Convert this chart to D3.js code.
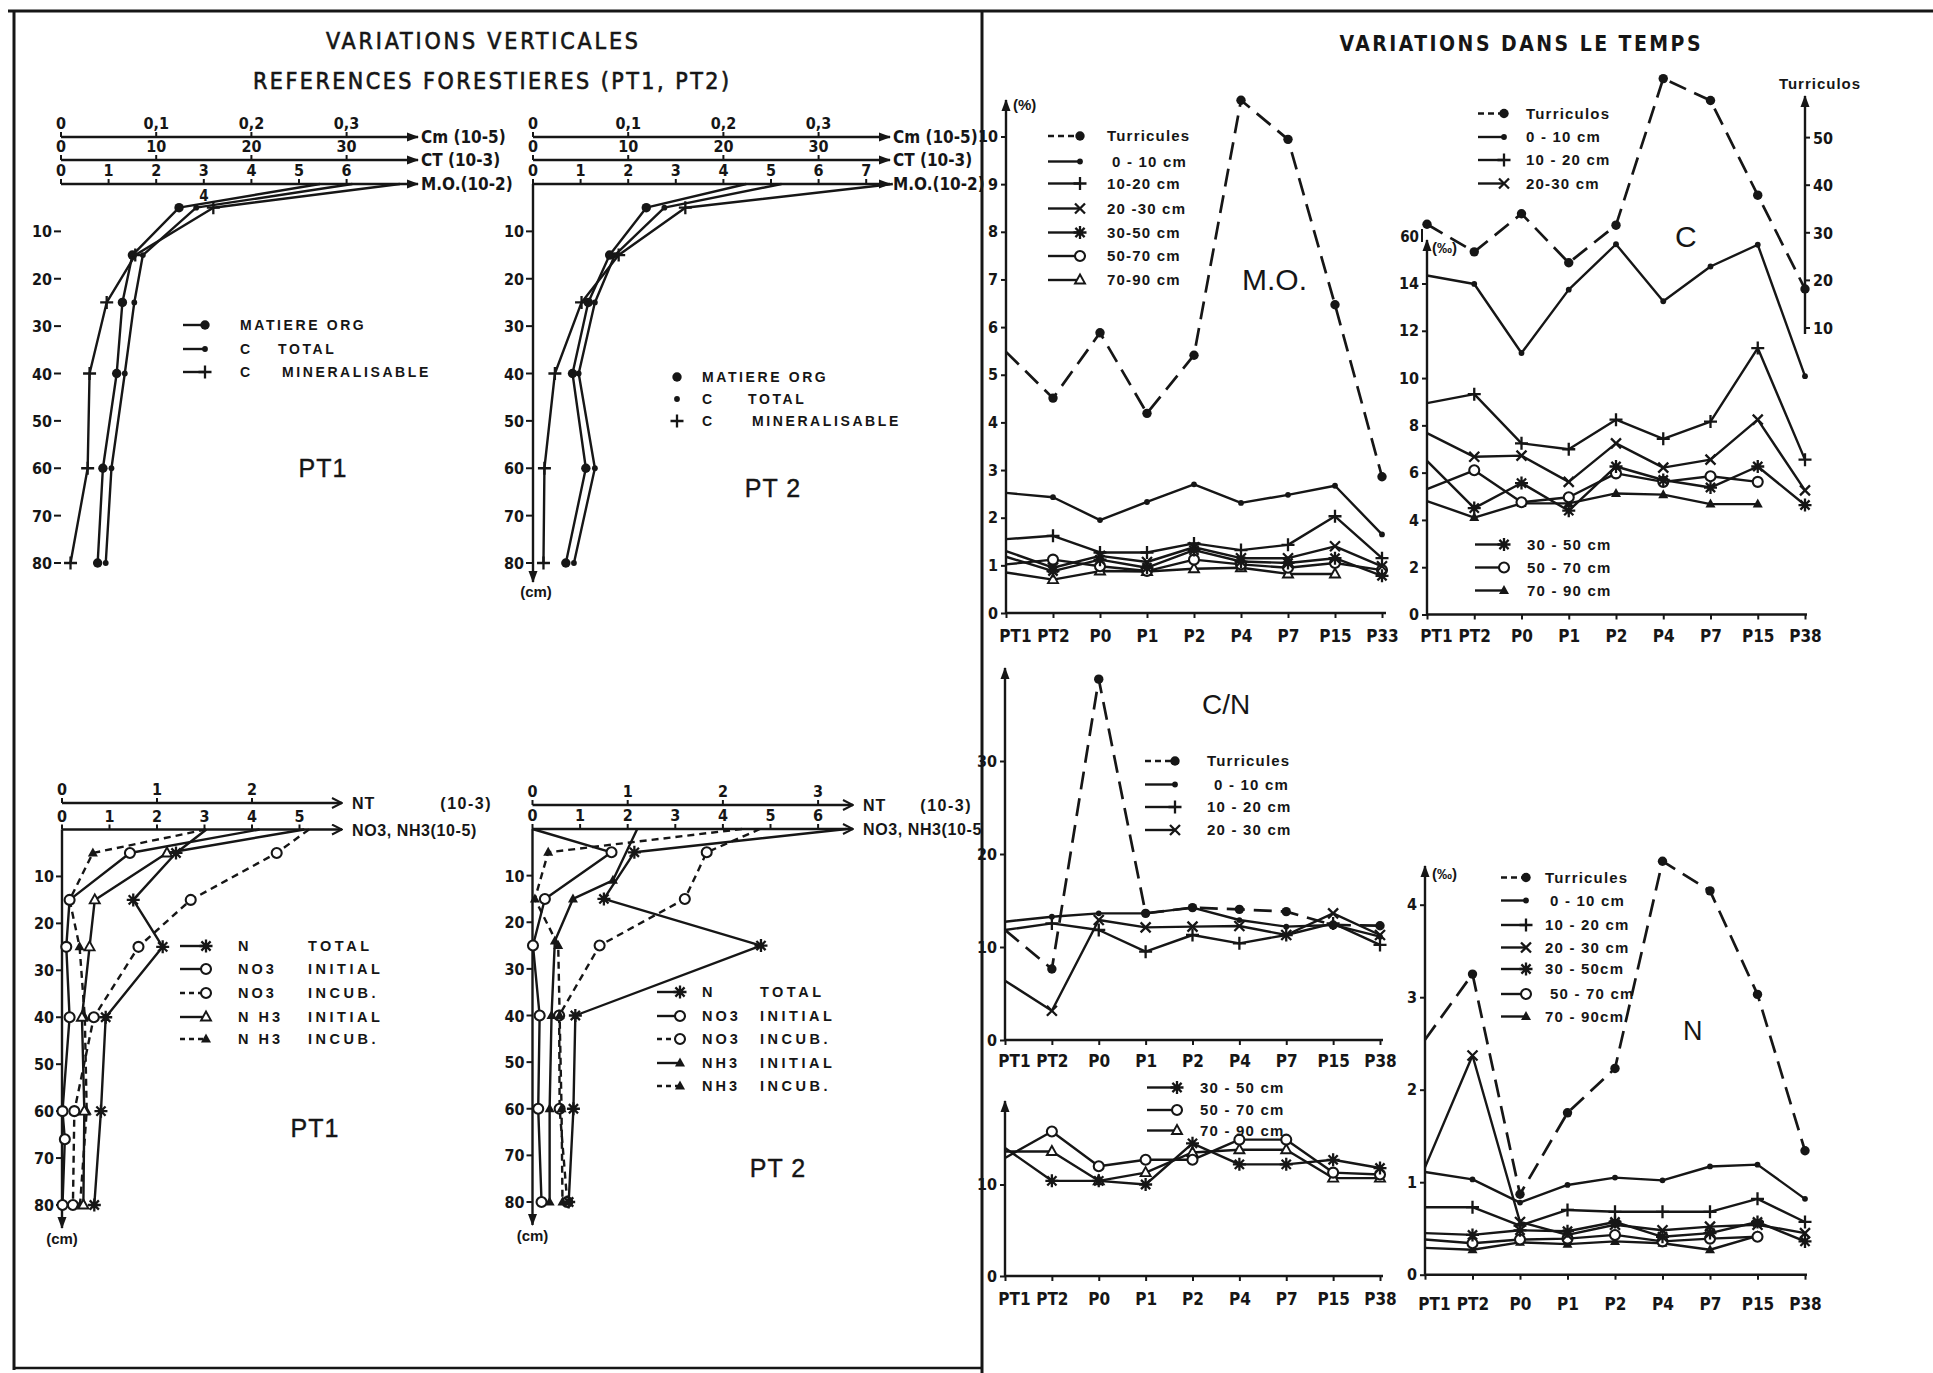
<!DOCTYPE html>
<html lang="fr">
<head>
<meta charset="utf-8">
<title>Variations verticales et dans le temps</title>
<script src="https://cdn.jsdelivr.net/npm/d3@7/dist/d3.min.js"></script>
<style>
  html, body { margin: 0; padding: 0; background: #fff; }
  svg { display: block; }
</style>
</head>
<body>
<svg id="fig" width="1933" height="1373"></svg>
<script>
// ---------------- Forest reference profiles (PT1, PT2): carbon ----------------
const depthC = [0, 5, 15, 25, 40, 60, 80];                       // cm
const pt1MO = [5.44, 2.48, 1.50, 1.29, 1.17, 0.88, 0.77];        // M.O. (10-2)
const pt1CT = [30.6, 14.2, 8.6, 7.7, 6.7, 5.3, 4.7];             // C total (10-3)
const pt1Cm = [0.356, 0.160, 0.078, 0.048, 0.030, 0.028, 0.010]; // C mineralisable (10-5)
const pt2MO = [4.48, 2.38, 1.61, 1.16, 0.83, 1.11, 0.69];
const pt2CT = [26.1, 13.8, 8.6, 6.5, 4.8, 6.5, 4.3];
const pt2Cm = [0.378, 0.160, 0.090, 0.051, 0.023, 0.012, 0.011];

const cmTicks = [0, 0.1, 0.2, 0.3];
const ctTicks = [0, 10, 20, 30];
const moTicksPT1 = [0, 1, 2, 3, 4, 5, 6];
const moTicksPT2 = [0, 1, 2, 3, 4, 5, 6, 7];
const depthTicks = [10, 20, 30, 40, 50, 60, 70, 80];

// ---------------- Forest reference profiles (PT1, PT2): nitrogen ----------------
const depthN = [0, 5, 15, 25, 40, 60, 80];
const pt1NT = [1.52, 1.20, 0.75, 1.06, 0.46, 0.41, 0.34];          // N total (10-3)
const pt1NO3iDepth = [0, 5, 15, 25, 40, 60, 66, 80];
const pt1NO3i = [4.16, 1.43, 0.16, 0.09, 0.16, 0.01, 0.06, 0.01]; // NO3 initial (10-5)
const pt1NO3c = [5.20, 4.52, 2.71, 1.61, 0.67, 0.26, 0.23];       // NO3 incub.
const pt1NH3i = [5.10, 2.21, 0.69, 0.58, 0.42, 0.47, 0.45];       // NH3 initial
const pt1NH3c = [3.03, 0.65, 0.16, 0.37, 0.48, 0.52, 0.38];       // NH3 incub.

const pt2NT = [3.30, 1.07, 0.75, 2.40, 0.45, 0.43, 0.38];
const pt2NO3i = [0.00, 1.66, 0.26, 0.01, 0.15, 0.12, 0.19];
const pt2NO3c = [4.78, 3.66, 3.20, 1.41, 0.56, 0.57, 0.73];
const pt2NH3iDepth = [0, 11, 15, 24, 40, 60, 80];
const pt2NH3i = [2.20, 1.69, 0.85, 0.47, 0.40, 0.36, 0.36];
const pt2NH3c = [4.40, 0.33, 0.05, 0.54, 0.57, 0.61, 0.63];

const ntTicksPT1 = [0, 1, 2];
const no3TicksPT1 = [0, 1, 2, 3, 4, 5];
const ntTicksPT2 = [0, 1, 2, 3];
const no3TicksPT2 = [0, 1, 2, 3, 4, 5, 6];

// ---------------- Time series: sites ----------------
const catsMO = ["PT1", "PT2", "P0", "P1", "P2", "P4", "P7", "P15", "P33"];
const catsT = ["PT1", "PT2", "P0", "P1", "P2", "P4", "P7", "P15", "P38"];

// M.O. (%)
const moTurr = [5.48, 4.51, 5.88, 4.19, 5.41, 10.76, 9.94, 6.47, 2.86];
const mo0_10 = [2.52, 2.43, 1.95, 2.33, 2.70, 2.31, 2.48, 2.67, 1.65];
const mo10_20 = [1.55, 1.62, 1.27, 1.27, 1.46, 1.32, 1.43, 2.03, 1.15];
const mo20_30 = [1.30, 0.95, 1.20, 1.07, 1.38, 1.15, 1.15, 1.40, 0.98];
const mo30_50 = [1.18, 0.88, 1.12, 0.95, 1.32, 1.08, 1.05, 1.15, 0.78];
const mo50_70 = [1.02, 1.12, 0.98, 0.88, 1.12, 1.02, 0.95, 1.05, 0.90];
const mo70_90 = [0.85, 0.70, 0.88, 0.87, 0.93, 0.95, 0.82, 0.82];

// C (per mille); casts on their own right-hand scale
const cTurr = [31.8, 26.0, 34.0, 23.7, 31.6, 62.4, 57.8, 37.9, 18.2];
const c0_10 = [14.34, 13.98, 11.06, 13.74, 15.66, 13.25, 14.72, 15.64, 10.08];
const c10_20 = [8.94, 9.32, 7.24, 6.99, 8.24, 7.43, 8.16, 11.27, 6.55];
const c20_30 = [7.67, 6.67, 6.72, 5.61, 7.24, 6.21, 6.55, 8.24, 5.25];
const c30_50 = [6.50, 4.50, 5.56, 4.39, 6.26, 5.69, 5.37, 6.26, 4.63];
const c50_70 = [5.30, 6.10, 4.75, 4.96, 5.97, 5.61, 5.85, 5.61];
const c70_90 = [4.80, 4.10, 4.70, 4.70, 5.12, 5.07, 4.67, 4.67];

// C/N
const cnTurr = [11.83, 7.63, 38.8, 13.62, 14.23, 14.05, 13.80, 12.37, 12.29];
const cn0_10 = [12.72, 13.26, 13.62, 13.62, 14.23, 12.90, 12.19, 12.37, 11.11];
const cn10_20 = [11.83, 12.54, 11.83, 9.50, 11.29, 10.39, 11.29, 12.54, 10.22];
const cn20_30 = [6.38, 3.15, 12.90, 12.11, 12.19, 12.26, 11.29, 13.62, 11.29];
const cn30_50 = [14.0, 10.4, 10.4, 10.0, 14.5, 12.2, 12.2, 12.7, 11.8];
const cn50_70 = [12.9, 15.8, 12.0, 12.7, 12.7, 14.9, 14.9, 11.3, 11.1];
const cn70_90 = [13.6, 13.6, 10.4, 11.3, 13.5, 13.8, 13.8, 10.7, 10.7];

// N (per mille)
const nTurr = [2.54, 3.25, 0.87, 1.75, 2.23, 4.47, 4.15, 3.03, 1.34];
const n0_10 = [1.11, 1.03, 0.78, 0.97, 1.05, 1.02, 1.17, 1.19, 0.82];
const n10_20 = [0.73, 0.73, 0.53, 0.70, 0.68, 0.68, 0.68, 0.82, 0.57];
const n20_30 = [1.16, 2.37, 0.57, 0.43, 0.54, 0.48, 0.52, 0.54, 0.45];
const n30_50 = [0.45, 0.43, 0.48, 0.47, 0.57, 0.41, 0.45, 0.57, 0.36];
const n50_70 = [0.38, 0.34, 0.38, 0.39, 0.43, 0.36, 0.39, 0.41];
const n70_90 = [0.29, 0.27, 0.35, 0.33, 0.36, 0.34, 0.27, 0.42];

// Tick values for the time charts
const moTicks = [0, 1, 2, 3, 4, 5, 6, 7, 8, 9, 10];
const cTicks = [0, 2, 4, 6, 8, 10, 12, 14];
const cTurrTicks = [10, 20, 30, 40, 50];
const cnTicks = [0, 10, 20, 30];
const cnLowTicks = [0, 10];
const nTicks = [0, 1, 2, 3, 4];

// ======================================================================
const FN = '"Liberation Sans Narrow","Arial Narrow","DejaVu Sans Condensed","Liberation Sans",Arial,sans-serif';
const FW = '"Liberation Sans",Arial,"DejaVu Sans",sans-serif';
const ink = "#161616";
const LW = 2.4;

const svg = d3.select("#fig");
svg.append("rect").attr("width", 1933).attr("height", 1373).attr("fill", "#fff");
const defs = svg.append("defs");
defs.append("marker").attr("id", "arrF").attr("viewBox", "0 -5 12 10").attr("refX", 11).attr("refY", 0)
  .attr("markerWidth", 12).attr("markerHeight", 10).attr("markerUnits", "userSpaceOnUse").attr("orient", "auto")
  .append("path").attr("d", "M0,-4.5L12,0L0,4.5Z").attr("fill", ink);
defs.append("marker").attr("id", "arrO").attr("viewBox", "0 -6 12 12").attr("refX", 11).attr("refY", 0)
  .attr("markerWidth", 12).attr("markerHeight", 12).attr("markerUnits", "userSpaceOnUse").attr("orient", "auto")
  .append("path").attr("d", "M1,-5L11,0L1,5").attr("fill", "none").attr("stroke", ink).attr("stroke-width", 2);
defs.append("clipPath").attr("id", "leftPane").append("rect")
  .attr("x", 0).attr("y", 0).attr("width", 981).attr("height", 1373);

function T(g, s, x, y, o = {}) {
  const t = g.append("text").attr("x", x).attr("y", y).text(s)
    .attr("font-family", o.ff || FW).attr("font-size", o.fs || 15)
    .attr("font-weight", o.fw || "bold").attr("fill", ink)
    .attr("text-anchor", o.a || "start");
  if (o.ls) t.attr("letter-spacing", o.ls);
  if (o.tl) t.attr("textLength", o.tl).attr("lengthAdjust", o.la || "spacingAndGlyphs");
  if (o.sw) t.attr("stroke", ink).attr("stroke-width", o.sw);
  return t;
}
function L(g, x1, y1, x2, y2, o = {}) {
  return g.append("line").attr("x1", x1).attr("y1", y1).attr("x2", x2).attr("y2", y2)
    .attr("stroke", ink).attr("stroke-width", o.w || LW)
    .attr("stroke-dasharray", o.dash || null)
    .attr("marker-end", o.arrow ? `url(#${o.arrow})` : null);
}
function M(g, type, x, y, k = 1) {
  const s = g.append("g").attr("transform", `translate(${x},${y}) scale(${k})`);
  const st = p => p.attr("stroke", ink).attr("stroke-width", 2.3).attr("fill", "none");
  switch (type) {
    case "dot": s.append("circle").attr("r", 4.7).attr("fill", ink); break;
    case "sdot": s.append("circle").attr("r", 2.9).attr("fill", ink); break;
    case "plus": st(s.append("path").attr("d", "M-6.5,0H6.5M0,-6.5V6.5")); break;
    case "cross": st(s.append("path").attr("d", "M-5,-5L5,5M-5,5L5,-5")); break;
    case "star": st(s.append("path").attr("d", "M-6.5,0H6.5M0,-6.5V6.5M-4.6,-4.6L4.6,4.6M-4.6,4.6L4.6,-4.6")); break;
    case "ring": s.append("circle").attr("r", 5).attr("fill", "#fff").attr("stroke", ink).attr("stroke-width", 2.1); break;
    case "tri": s.append("path").attr("d", "M0,-5.5L5,3.5L-5,3.5Z").attr("fill", "#fff").attr("stroke", ink).attr("stroke-width", 1.9); break;
    case "ftri": s.append("path").attr("d", "M0,-5.5L5,3.5L-5,3.5Z").attr("fill", ink); break;
  }
}
function series(g, pts, o = {}) {
  g.append("path").attr("d", d3.line()(pts)).attr("fill", "none").attr("stroke", ink)
    .attr("stroke-width", o.w || LW).attr("stroke-dasharray", o.dash || null)
    .attr("stroke-linejoin", "round");
  if (o.mk) pts.forEach((p, i) => { if (!(o.skipFirst && i === 0)) M(g, o.mk, p[0], p[1], o.k || 1); });
}

// ---------------- frame and titles ----------------
const frame = svg.append("g");
L(frame, 8, 11, 1933, 11, { w: 3 });
L(frame, 14, 11, 14, 1370, { w: 3 });
L(frame, 982, 11, 982, 1373, { w: 3 });
L(frame, 14, 1368, 982, 1368, { w: 2.5 });
T(frame, "VARIATIONS VERTICALES", 482, 49, { a: "middle", ff: FN, fs: 23, fw: "normal", tl: 312, la: "spacing", sw: 0.6 });
T(frame, "REFERENCES FORESTIERES (PT1, PT2)", 491, 89, { a: "middle", ff: FN, fs: 23, fw: "normal", tl: 476, la: "spacing", sw: 0.6 });
T(frame, "VARIATIONS DANS LE TEMPS", 1520, 51, { a: "middle", ff: FN, fs: 21, fw: "bold", tl: 361, la: "spacing" });

// ---------------- carbon profiles ----------------
function topPanel(ox, moT, mo, ct, cm, vaxis) {
  const g = svg.append("g");
  const span = 7.5, unit = 47.6;
  const xMO = d3.scaleLinear().domain([0, span]).range([ox, ox + span * unit]);
  const xCT = xMO.copy().domain([0, span * 5]);
  const xCm = xMO.copy().domain([0, span * 0.05]);
  const yD = d3.scaleLinear().domain([0, 80]).range([184, 563]);
  const tip = xMO(span);
  const comma = d => d === 0 ? "0" : d3.format(".1f")(d).replace(".", ",");
  const rows = [
    { y: 137, s: xCm, ticks: cmTicks, f: comma, lab: "Cm (10-5)" },
    { y: 160, s: xCT, ticks: ctTicks, f: d3.format("d"), lab: "CT (10-3)" },
    { y: 184, s: xMO, ticks: moT, f: d3.format("d"), lab: "M.O.(10-2)" }];
  rows.forEach(r => {
    L(g, ox, r.y, tip, r.y, { arrow: "arrF" });
    r.ticks.forEach(t => {
      L(g, r.s(t), r.y - 5, r.s(t), r.y, { w: 2 });
      T(g, r.f(t), r.s(t), r.y - 8, { a: "middle", ff: FN, fs: 16 });
    });
    T(g, r.lab, tip + 3, r.y + 6, { ff: FN, fs: 17 });
  });
  depthTicks.forEach(d => {
    L(g, ox - 7, yD(d), ox, yD(d), { w: 2 });
    T(g, d, ox - 9, yD(d) + 6, { a: "end", ff: FN, fs: 16 });
  });
  if (vaxis) {
    L(g, ox, 184, ox, 582, { arrow: "arrF" });
    T(g, "(cm)", ox + 3, 597, { a: "middle", fs: 15 });
  }
  series(g, depthC.map((d, i) => [xCT(ct[i]), yD(d)]), { mk: "sdot", skipFirst: true });
  series(g, depthC.map((d, i) => [xMO(mo[i]), yD(d)]), { mk: "dot", skipFirst: true });
  series(g, depthC.map((d, i) => [xCm(cm[i]), yD(d)]), { mk: "plus", skipFirst: true });
  return g;
}
const gT1 = topPanel(61, moTicksPT1, pt1MO, pt1CT, pt1Cm, false);
T(gT1, "4", 204, 201, { a: "middle", ff: FN, fs: 15 });
const gT2 = topPanel(533, moTicksPT2, pt2MO, pt2CT, pt2Cm, true);

// carbon legends
const legC = [["MATIERE ORG", ""], ["C", "TOTAL"], ["C", "MINERALISABLE"]];
const legCmk = ["dot", "sdot", "plus"];
[325, 349, 372].forEach((y, i) => {
  L(gT1, 183, y, 205, y);
  M(gT1, legCmk[i], 205, y);
  T(gT1, legC[i][0], 240, y + 5, { fs: 14, ls: 2.6 });
  if (legC[i][1]) T(gT1, legC[i][1], i === 1 ? 278 : 282, y + 5, { fs: 14, ls: 2.6 });
});
[377, 399, 421].forEach((y, i) => {
  M(gT2, legCmk[i], 677, y);
  T(gT2, legC[i][0], 702, y + 5, { fs: 14, ls: 2.6 });
  if (legC[i][1]) T(gT2, legC[i][1], i === 1 ? 748 : 752, y + 5, { fs: 14, ls: 2.6 });
});
T(gT1, "PT1", 323, 477, { a: "middle", fs: 25, fw: "normal", ls: 1, sw: 0.4 });
T(gT2, "PT 2", 773, 497, { a: "middle", fs: 25, fw: "normal", ls: 1, sw: 0.4 });

// ---------------- nitrogen profiles ----------------
function botPanel(c) {
  const g = svg.append("g");
  const xNO = d3.scaleLinear().domain([0, c.span]).range([c.ox, c.tip]);
  const xNT = xNO.copy().domain([0, c.span / 2]);
  const yD = d3.scaleLinear().domain([0, 80]).range([c.yNO3, c.y80]);
  L(g, c.ox, c.yNT, c.tip, c.yNT, { arrow: "arrO" });
  L(g, c.ox, c.yNO3, c.tip, c.yNO3, { arrow: "arrO" });
  c.ntTicks.forEach(t => { L(g, xNT(t), c.yNT - 5, xNT(t), c.yNT, { w: 2 }); T(g, t, xNT(t), c.yNT - 8, { a: "middle", ff: FN, fs: 16 }); });
  c.noTicks.forEach(t => { L(g, xNO(t), c.yNO3 - 5, xNO(t), c.yNO3, { w: 2 }); T(g, t, xNO(t), c.yNO3 - 8, { a: "middle", ff: FN, fs: 16 }); });
  T(g, "NT", c.tip + 10, c.yNT + 6, { fs: 16, ls: 1 });
  T(g, "(10-3)", c.unitX, c.yNT + 6, { a: "end", fs: 16, ls: 1.5 });
  T(g, "NO3, NH3(10-5)", c.tip + 10, c.yNO3 + 6, { fs: 16, ls: 0.6 }).attr("clip-path", "url(#leftPane)");
  L(g, c.ox, c.yNO3, c.ox, c.yEnd, { arrow: "arrF" });
  T(g, "(cm)", c.ox, c.yEnd + 16, { a: "middle", fs: 15 });
  depthTicks.forEach(d => {
    L(g, c.ox - 6, yD(d), c.ox, yD(d), { w: 2 });
    T(g, d, c.ox - 8, yD(d) + 6, { a: "end", ff: FN, fs: 16 });
  });
  series(g, c.no3c.map((v, i) => [xNO(v), yD(depthN[i])]), { mk: "ring", dash: "7,5", skipFirst: true });
  series(g, c.nh3c.map((v, i) => [xNO(v), yD(depthN[i])]), { mk: "ftri", dash: "7,5", skipFirst: true });
  series(g, c.nh3i.map((v, i) => [xNO(v), yD(c.nh3iDepth[i])]), { mk: c.nh3iMk, skipFirst: true });
  series(g, c.no3i.map((v, i) => [xNO(v), yD(c.no3iDepth[i])]), { mk: "ring", skipFirst: true });
  series(g, c.nt.map((v, i) => [xNT(v), yD(depthN[i])]), { mk: "star", skipFirst: true });
  // legend
  const mk = ["star", "ring", "ring", c.nh3iMk, "ftri"];
  const dash = [null, null, "5,4", null, "5,4"];
  c.legY.forEach((y, i) => {
    L(g, c.legX[0], y, c.legX[1], y, { dash: dash[i] });
    M(g, mk[i], c.legX[1], y);
    T(g, c.legLab[i][0], c.legX[2], y + 5, { fs: 14.5, ls: 3 });
    T(g, c.legLab[i][1], c.legX[3], y + 5, { fs: 14.5, ls: 3.5 });
  });
  T(g, c.name, c.nameXY[0], c.nameXY[1], { a: "middle", fs: 25, fw: "normal", ls: 1, sw: 0.4 });
  return g;
}
botPanel({
  ox: 62, tip: 342, span: (342 - 62) / 47.5, yNT: 803, yNO3: 829.5, y80: 1205, yEnd: 1228,
  ntTicks: ntTicksPT1, noTicks: no3TicksPT1, unitX: 492,
  nt: pt1NT, no3i: pt1NO3i, no3iDepth: pt1NO3iDepth, no3c: pt1NO3c,
  nh3i: pt1NH3i, nh3iDepth: depthN, nh3c: pt1NH3c, nh3iMk: "tri",
  legX: [180, 206, 238, 308], legY: [946, 969, 993, 1017, 1039],
  legLab: [["N", "TOTAL"], ["NO3", "INITIAL"], ["NO3", "INCUB."], ["N H3", "INITIAL"], ["N H3", "INCUB."]],
  name: "PT1", nameXY: [315, 1137]
});
botPanel({
  ox: 532.5, tip: 853, span: (853 - 532.5) / 47.6, yNT: 805, yNO3: 829, y80: 1202, yEnd: 1225,
  ntTicks: ntTicksPT2, noTicks: no3TicksPT2, unitX: 972,
  nt: pt2NT, no3i: pt2NO3i, no3iDepth: depthN, no3c: pt2NO3c,
  nh3i: pt2NH3i, nh3iDepth: pt2NH3iDepth, nh3c: pt2NH3c, nh3iMk: "ftri",
  legX: [657, 680, 702, 760], legY: [992, 1016, 1039, 1063, 1086],
  legLab: [["N", "TOTAL"], ["NO3", "INITIAL"], ["NO3", "INCUB."], ["NH3", "INITIAL"], ["NH3", "INCUB."]],
  name: "PT 2", nameXY: [778, 1177]
});

// ---------------- time charts ----------------
function timePanel(c) {
  const g = svg.append("g");
  const x = d3.scalePoint().domain(c.cats).range(c.xr);
  const y = d3.scaleLinear().domain(c.dom).range(c.yr);
  const x0 = c.xr[0], y0 = c.yr[0];
  L(g, x0, y0, x0, c.top, { arrow: "arrF" });
  L(g, x0, y0, c.xEnd, y0);
  const ya = g.append("g").attr("transform", `translate(${x0},0)`)
    .call(d3.axisLeft(y).tickValues(c.ticks).tickSize(5).tickPadding(3).tickFormat(d3.format("d")));
  const xa = g.append("g").attr("transform", `translate(0,${y0})`)
    .call(d3.axisBottom(x).tickSize(5).tickPadding(c.labY - y0 - 11));
  [ya, xa].forEach(a => {
    a.select(".domain").remove();
    a.attr("font-family", null).attr("font-size", null);
    a.selectAll(".tick line").attr("stroke", ink).attr("stroke-width", 2);
    a.selectAll(".tick text").attr("fill", ink).attr("font-family", FN).attr("font-weight", "bold");
  });
  ya.selectAll(".tick text").attr("font-size", 16);
  xa.selectAll(".tick text").attr("font-size", 17);
  xa.select(".tick text").attr("dx", 9);
  return { g, x, y };
}
function tSeries(p, vals, o, yS) {
  const ys = yS || p.y;
  const cats = p.x.domain();
  series(p.g, vals.map((v, i) => [p.x(cats[i]), ys(v)]), Object.assign({ skipFirst: true }, o));
}
function tLegend(g, items, sx0, sx1, tx, ys) {
  items.forEach((it, i) => {
    L(g, sx0, ys[i], sx1, ys[i], { dash: it.dash });
    M(g, it.mk, sx1, ys[i]);
    T(g, it.label, it.tx || tx, ys[i] + 5, { fs: 15, ls: 1.2 });
  });
}
const DASH = "18,9";

// M.O.
const pMO = timePanel({ cats: catsMO, xr: [1006, 1382], yr: [613, 136.5], dom: [0, 10], ticks: moTicks, top: 100, labY: 636, xEnd: 1386 });
tSeries(pMO, mo70_90, { mk: "tri" });
tSeries(pMO, mo50_70, { mk: "ring" });
tSeries(pMO, mo30_50, { mk: "star" });
tSeries(pMO, mo20_30, { mk: "cross" });
tSeries(pMO, mo10_20, { mk: "plus" });
tSeries(pMO, mo0_10, { mk: "sdot" });
tSeries(pMO, moTurr, { mk: "dot", dash: DASH, w: 2.7 });
T(pMO.g, "(%)", 1013, 110, { fs: 15 });
tLegend(pMO.g, [
  { label: "Turricules", mk: "dot", dash: "6,4" },
  { label: "0 - 10 cm", mk: "sdot", tx: 1112 },
  { label: "10-20 cm", mk: "plus" },
  { label: "20 -30 cm", mk: "cross" },
  { label: "30-50 cm", mk: "star" },
  { label: "50-70 cm", mk: "ring" },
  { label: "70-90 cm", mk: "tri" }], 1048, 1080, 1107, [136, 161.5, 183.5, 208.5, 232.5, 256, 280]);
T(pMO.g, "M.O.", 1242, 290, { fs: 30, fw: "normal" });

// C
const pC = timePanel({ cats: catsT, xr: [1427, 1805], yr: [614.5, 283.5], dom: [0, 14], ticks: cTicks, top: 240, labY: 636, xEnd: 1807 });
const yTurr = d3.scaleLinear().domain([10, 50]).range([328, 137.6]);
L(pC.g, 1805, 334, 1805, 96, { arrow: "arrF" });
cTurrTicks.forEach(t => {
  L(pC.g, 1805, yTurr(t), 1810, yTurr(t), { w: 2 });
  T(pC.g, t, 1813, yTurr(t) + 6, { ff: FN, fs: 16 });
});
T(pC.g, "Turriculos", 1820, 89, { a: "middle", fs: 15, ls: 1 });
T(pC.g, "60", 1419, 242, { a: "end", ff: FN, fs: 15 });
L(pC.g, 1422, 229, 1422, 242, { w: 2 });
tSeries(pC, c70_90, { mk: "ftri" });
tSeries(pC, c50_70, { mk: "ring" });
tSeries(pC, c30_50, { mk: "star" });
tSeries(pC, c20_30, { mk: "cross" });
tSeries(pC, c10_20, { mk: "plus" });
tSeries(pC, c0_10, { mk: "sdot" });
tSeries(pC, cTurr, { mk: "dot", dash: DASH, w: 2.7, skipFirst: false }, yTurr);
T(pC.g, "(‰)", 1432, 253, { fs: 15 });
tLegend(pC.g, [
  { label: "Turriculos", mk: "dot", dash: "6,4" },
  { label: "0 - 10 cm", mk: "sdot" },
  { label: "10 - 20 cm", mk: "plus" },
  { label: "20-30 cm", mk: "cross" }], 1478, 1504, 1526, [113.5, 137, 160, 183.5]);
tLegend(pC.g, [
  { label: "30 - 50 cm", mk: "star" },
  { label: "50 - 70 cm", mk: "ring" },
  { label: "70 - 90 cm", mk: "ftri" }], 1475, 1504, 1527, [544.5, 567.5, 590.5]);
T(pC.g, "C", 1675, 247, { fs: 30, fw: "normal" });

// C/N, upper layers
const pCN = timePanel({ cats: catsT, xr: [1005, 1380], yr: [1040, 761], dom: [0, 30], ticks: cnTicks, top: 668, labY: 1061, xEnd: 1383 });
tSeries(pCN, cn20_30, { mk: "cross" });
tSeries(pCN, cn10_20, { mk: "plus" });
tSeries(pCN, cn0_10, { mk: "sdot" });
tSeries(pCN, cnTurr, { mk: "dot", dash: DASH, w: 2.7 });
tLegend(pCN.g, [
  { label: "Turricules", mk: "dot", dash: "6,4" },
  { label: "0 - 10 cm", mk: "sdot", tx: 1214 },
  { label: "10 - 20 cm", mk: "plus" },
  { label: "20 - 30 cm", mk: "cross" }], 1145, 1175, 1207, [761, 784.5, 807, 830]);
T(pCN.g, "C/N", 1202, 714, { fs: 28, fw: "normal" });

// C/N, deeper layers
const pCN2 = timePanel({ cats: catsT, xr: [1005, 1380], yr: [1276, 1184.5], dom: [0, 10], ticks: cnLowTicks, top: 1101, labY: 1299, xEnd: 1383 });
tSeries(pCN2, cn70_90, { mk: "tri" });
tSeries(pCN2, cn50_70, { mk: "ring" });
tSeries(pCN2, cn30_50, { mk: "star" });
tLegend(pCN2.g, [
  { label: "30 - 50 cm", mk: "star" },
  { label: "50 - 70 cm", mk: "ring" },
  { label: "70 - 90 cm", mk: "tri" }], 1147, 1177, 1200, [1087.5, 1110, 1130.5]);

// N
const pN = timePanel({ cats: catsT, xr: [1425, 1805], yr: [1274.7, 904.7], dom: [0, 4], ticks: nTicks, top: 866, labY: 1304, xEnd: 1807 });
tSeries(pN, n70_90, { mk: "ftri" });
tSeries(pN, n50_70, { mk: "ring" });
tSeries(pN, n30_50, { mk: "star" });
tSeries(pN, n20_30, { mk: "cross" });
tSeries(pN, n10_20, { mk: "plus" });
tSeries(pN, n0_10, { mk: "sdot" });
tSeries(pN, nTurr, { mk: "dot", dash: DASH, w: 2.7 });
T(pN.g, "(‰)", 1432, 879, { fs: 15 });
tLegend(pN.g, [
  { label: "Turricules", mk: "dot", dash: "6,4" },
  { label: "0 - 10 cm", mk: "sdot", tx: 1550 },
  { label: "10 - 20 cm", mk: "plus" },
  { label: "20 - 30 cm", mk: "cross" },
  { label: "30 - 50cm", mk: "star" },
  { label: "50 - 70 cm", mk: "ring", tx: 1550 },
  { label: "70 - 90cm", mk: "ftri" }], 1501, 1526, 1545, [877.5, 900.5, 925, 947.5, 969, 994, 1016.5]);
T(pN.g, "N", 1683, 1040, { fs: 27, fw: "normal" });
</script>
</body>
</html>
